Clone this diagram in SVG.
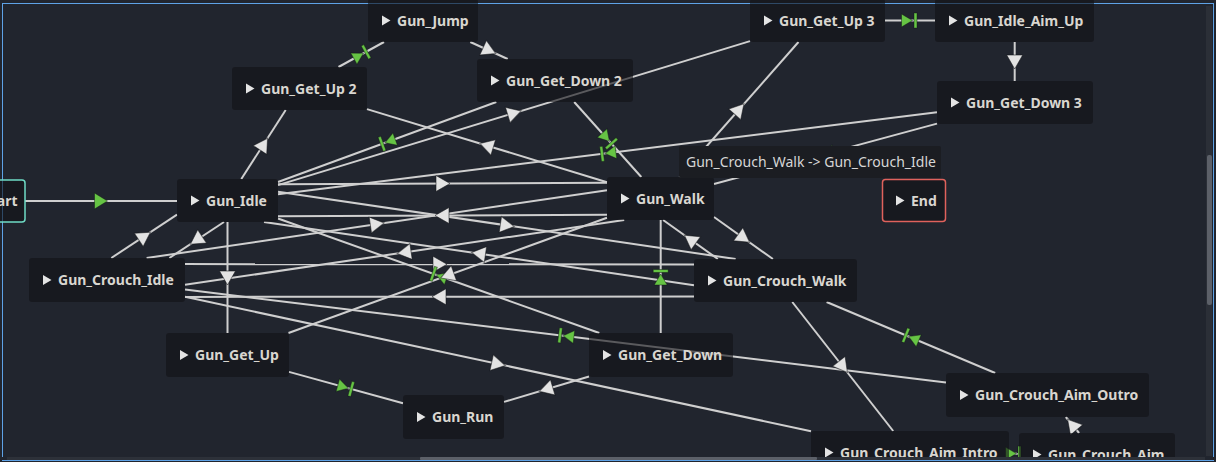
<svg xmlns="http://www.w3.org/2000/svg" xmlns:xlink="http://www.w3.org/1999/xlink" width="1216" height="462" viewBox="0 0 1216 462">
<style>
.bg{fill:#21252e}
.ln{stroke:#cfcfcf;stroke-width:2;fill:none}
.box{fill:#111216;fill-opacity:0.62}
.t{font-family:"Noto Sans","DejaVu Sans",sans-serif;font-weight:bold;font-size:14px;fill:#d9d6d0}
.ic{fill:#e4e4e4}
.tip{font-family:"Noto Sans","DejaVu Sans",sans-serif;font-size:14px;fill:#d6d6d6}
</style>
<defs>
<path id="aw" d="M-6.5,-8 L7.5,0 L-6.5,8 Z" fill="#e3e3e3" stroke="#101216" stroke-opacity="0.55" stroke-width="1"/>
<path id="ag" d="M-6.5,-8 L6.5,0 L-6.5,8 Z" fill="#66c444" stroke="#101216" stroke-opacity="0.45" stroke-width="1"/>
<g id="ab" fill="#66c444" stroke="#101216" stroke-opacity="0.45" stroke-width="1"><path d="M-8.5,-6.5 L2.5,0 L-8.5,6.5 Z"/><rect x="4" y="-7.5" width="3" height="15"/></g>
</defs>
<rect class="bg" x="0" y="0" width="1216" height="462"/>
<rect x="2.5" y="3.5" width="1211" height="457" fill="none" stroke="#5ea2e6" stroke-width="1"/>
<rect x="1206" y="6" width="6" height="450" fill="#2b2f37"/>
<rect x="1207" y="155" width="5" height="150" rx="2" fill="#5c6068"/>

<g id="connectors">
<line class="ln" x1="25" y1="201" x2="177" y2="201"/>
<line class="ln" x1="241.3" y1="179" x2="285.7" y2="110"/>
<line class="ln" x1="338.5" y1="67" x2="384" y2="42"/>
<line class="ln" x1="470.3" y1="42" x2="507.7" y2="59"/>
<line class="ln" x1="574.2" y1="102" x2="641.3" y2="177"/>
<line class="ln" x1="496.3" y1="102" x2="278" y2="182"/>
<line class="ln" x1="278" y1="185.1" x2="750" y2="41.1"/>
<line class="ln" x1="885" y1="20.5" x2="935" y2="20.5"/>
<line class="ln" x1="1014.7" y1="42" x2="1014.7" y2="81"/>
<line class="ln" x1="937" y1="112.2" x2="278" y2="194.2"/>
<line class="ln" x1="937" y1="123.6" x2="714" y2="184"/>
<line class="ln" x1="679.5" y1="177" x2="798.5" y2="42"/>
<line class="ln" x1="278" y1="184.3" x2="607" y2="182.8"/>
<line class="ln" x1="607" y1="214.8" x2="278" y2="216.3"/>
<line class="ln" x1="224" y1="222" x2="169.4" y2="258"/>
<line class="ln" x1="111.3" y1="258" x2="177" y2="214.6"/>
<line class="ln" x1="227.5" y1="222" x2="227.5" y2="333"/>
<line class="ln" x1="289" y1="371.9" x2="403" y2="403.2"/>
<line class="ln" x1="589" y1="376.5" x2="504" y2="401.9"/>
<line class="ln" x1="660.7" y1="333" x2="660.7" y2="220"/>
<line class="ln" x1="714" y1="217" x2="772.9" y2="259"/>
<line class="ln" x1="717.8" y1="259" x2="663.1" y2="220"/>
<line class="ln" x1="185" y1="264.1" x2="694" y2="264.4"/>
<line class="ln" x1="694" y1="296.6" x2="185" y2="296.9"/>
<line class="ln" x1="146.6" y1="258" x2="607" y2="190.2"/>
<line class="ln" x1="624.2" y1="220" x2="185" y2="284.8"/>
<line class="ln" x1="278" y1="191.8" x2="735.6" y2="259"/>
<line class="ln" x1="694" y1="285.2" x2="264" y2="222"/>
<line class="ln" x1="599.3" y1="333" x2="278" y2="218.5"/>
<line class="ln" x1="607" y1="217.8" x2="288.5" y2="333"/>
<line class="ln" x1="185" y1="296.8" x2="811" y2="431.2"/>
<line class="ln" x1="946" y1="382.6" x2="185" y2="289.5"/>
<line class="ln" x1="792.3" y1="302" x2="893.2" y2="431"/>
<line class="ln" x1="995.2" y1="373" x2="826.6" y2="302"/>
<line class="ln" x1="1009" y1="453.6" x2="1019" y2="453.7"/>
<line class="ln" x1="1079.1" y1="433" x2="1065.8" y2="417"/>
<line class="ln" x1="367" y1="109.1" x2="607" y2="182.2"/>

<use xlink:href="#ag" transform="translate(101,201)"/>
<use xlink:href="#aw" transform="translate(263.5,144.5) rotate(-57.2)"/>
<use xlink:href="#ab" transform="translate(361.3,54.5) rotate(-28.8)"/>
<use xlink:href="#aw" transform="translate(489,50.5) rotate(24.5)"/>
<use xlink:href="#ab" transform="translate(607.8,139.5) rotate(48.2)"/>
<use xlink:href="#ab" transform="translate(387.2,142) rotate(159.9)"/>
<use xlink:href="#aw" transform="translate(514,113.1) rotate(-17)"/>
<use xlink:href="#ab" transform="translate(910,20.5)"/>
<use xlink:href="#aw" transform="translate(1014.7,61.5) rotate(90)"/>
<use xlink:href="#ab" transform="translate(607.5,153.2) rotate(172.9)"/>
<use xlink:href="#ab" transform="translate(825.5,153.8) rotate(164.8)"/>
<use xlink:href="#aw" transform="translate(739,109.5) rotate(-48.6)"/>
<use xlink:href="#aw" transform="translate(442.5,183.5)"/>
<use xlink:href="#aw" transform="translate(442.5,215.5) rotate(180)"/>
<use xlink:href="#aw" transform="translate(196.7,240) rotate(146.6)"/>
<use xlink:href="#aw" transform="translate(144.2,236.3) rotate(-33.4)"/>
<use xlink:href="#aw" transform="translate(227.5,277.5) rotate(90)"/>
<use xlink:href="#ab" transform="translate(346,387.5) rotate(15.3)"/>
<use xlink:href="#aw" transform="translate(546.5,389.2) rotate(163.4)"/>
<use xlink:href="#ab" transform="translate(660.7,276.5) rotate(-90)"/>
<use xlink:href="#aw" transform="translate(743.5,238) rotate(35.5)"/>
<use xlink:href="#aw" transform="translate(690.5,239.5) rotate(-144.5)"/>
<use xlink:href="#aw" transform="translate(439.5,264.25)"/>
<use xlink:href="#aw" transform="translate(439.5,296.75) rotate(180)"/>
<use xlink:href="#aw" transform="translate(376.8,224.1) rotate(-8.4)"/>
<use xlink:href="#aw" transform="translate(404.6,252.4) rotate(171.6)"/>
<use xlink:href="#aw" transform="translate(506.8,225.4) rotate(8.35)"/>
<use xlink:href="#aw" transform="translate(479,253.6) rotate(-171.65)"/>
<use xlink:href="#ab" transform="translate(438.6,275.7) rotate(-160.4)"/>
<use xlink:href="#aw" transform="translate(447.8,275.4) rotate(160.1)"/>
<use xlink:href="#aw" transform="translate(498,364) rotate(12.1)"/>
<use xlink:href="#ab" transform="translate(565.5,336) rotate(-173)"/>
<use xlink:href="#aw" transform="translate(842.8,366.5) rotate(52)"/>
<use xlink:href="#ab" transform="translate(910.9,337.5) rotate(-157.2)"/>
<use xlink:href="#ab" transform="translate(1014,453.6)"/>
<use xlink:href="#aw" transform="translate(1072.4,425) rotate(-129.8)"/>
<use xlink:href="#aw" transform="translate(487,145.6) rotate(-163.05)"/>
</g>

<g id="node-start"><rect class="box" x="-46" y="180" width="71" height="42" rx="3" stroke="#6fdcc6" stroke-width="1.5"/><polygon class="ic" points="-32,196 -23.5,201 -32,206"/><text class="t" x="-17" y="206">Start</text></g>
<g id="node-gun-idle"><rect class="box" x="177" y="179" width="101" height="43" rx="3"/><polygon class="ic" points="191,195.5 199.5,200.5 191,205.5"/><text class="t" x="206" y="205.5">Gun_Idle</text></g>
<g id="node-gun-get-up-2"><rect class="box" x="232" y="67" width="135" height="43" rx="3"/><polygon class="ic" points="246,83.5 254.5,88.5 246,93.5"/><text class="t" x="261" y="93.5">Gun_Get_Up 2</text></g>
<g id="node-gun-jump"><rect class="box" x="368" y="-1" width="110" height="43" rx="3"/><polygon class="ic" points="382,15.5 390.5,20.5 382,25.5"/><text class="t" x="397" y="25.5">Gun_Jump</text></g>
<g id="node-gun-get-down-2"><rect class="box" x="477" y="59" width="156" height="43" rx="3"/><polygon class="ic" points="491,75.5 499.5,80.5 491,85.5"/><text class="t" x="506" y="85.5">Gun_Get_Down 2</text></g>
<g id="node-gun-get-up-3"><rect class="box" x="750" y="-1" width="135" height="43" rx="3"/><polygon class="ic" points="764,15.5 772.5,20.5 764,25.5"/><text class="t" x="779" y="25.5">Gun_Get_Up 3</text></g>
<g id="node-gun-idle-aim-up"><rect class="box" x="935" y="-1" width="159" height="43" rx="3"/><polygon class="ic" points="949,15.5 957.5,20.5 949,25.5"/><text class="t" x="964" y="25.5">Gun_Idle_Aim_Up</text></g>
<g id="node-gun-get-down-3"><rect class="box" x="937" y="81" width="156" height="43" rx="3"/><polygon class="ic" points="951,97.5 959.5,102.5 951,107.5"/><text class="t" x="966" y="107.5">Gun_Get_Down 3</text></g>
<g id="node-end"><rect class="box" x="882.5" y="179.5" width="63" height="42" rx="3" stroke="#e0625c" stroke-width="1.5"/><polygon class="ic" points="896,195.5 904.5,200.5 896,205.5"/><text class="t" x="911" y="205.5">End</text></g>
<g id="node-gun-walk"><rect class="box" x="607" y="177" width="107" height="43" rx="3"/><polygon class="ic" points="621,193.5 629.5,198.5 621,203.5"/><text class="t" x="636" y="203.5">Gun_Walk</text></g>
<g id="node-gun-crouch-idle"><rect class="box" x="29" y="258" width="156" height="44" rx="3"/><polygon class="ic" points="43,275 51.5,280 43,285"/><text class="t" x="58" y="285">Gun_Crouch_Idle</text></g>
<g id="node-gun-crouch-walk"><rect class="box" x="694" y="259" width="163" height="43" rx="3"/><polygon class="ic" points="708,275.5 716.5,280.5 708,285.5"/><text class="t" x="723" y="285.5">Gun_Crouch_Walk</text></g>
<g id="node-gun-get-up"><rect class="box" x="166" y="333" width="123" height="44" rx="3"/><polygon class="ic" points="180,350 188.5,355 180,360"/><text class="t" x="195" y="360">Gun_Get_Up</text></g>
<g id="node-gun-get-down"><rect class="box" x="589" y="333" width="144" height="44" rx="3"/><polygon class="ic" points="603,350 611.5,355 603,360"/><text class="t" x="618" y="360">Gun_Get_Down</text></g>
<g id="node-gun-run"><rect class="box" x="403" y="395" width="101" height="44" rx="3"/><polygon class="ic" points="417,412 425.5,417 417,422"/><text class="t" x="432" y="422">Gun_Run</text></g>
<g id="node-gun-crouch-aim-outro"><rect class="box" x="946" y="373" width="203" height="44" rx="3"/><polygon class="ic" points="960,390 968.5,395 960,400"/><text class="t" x="975" y="400">Gun_Crouch_Aim_Outro</text></g>
<g id="node-gun-crouch-aim-intro"><rect class="box" x="811" y="431" width="198" height="43" rx="3"/><polygon class="ic" points="825,447.5 833.5,452.5 825,457.5"/><text class="t" x="840" y="457.5">Gun_Crouch_Aim_Intro</text></g>
<g id="node-gun-crouch-aim"><rect class="box" x="1019" y="433" width="156" height="43" rx="3"/><polygon class="ic" points="1033,449.5 1041.5,454.5 1033,459.5"/><text class="t" x="1048" y="459.5">Gun_Crouch_Aim</text></g>

<g id="tooltip"><rect x="679" y="146" width="262" height="32" rx="2" fill="#1b1d22"/><text class="tip" x="686" y="167">Gun_Crouch_Walk -&gt; Gun_Crouch_Idle</text></g>

<rect x="0" y="457" width="1216" height="5" fill="#21252e"/>
<rect x="7" y="457" width="1198" height="3" fill="#2d3139"/>
<rect x="420" y="457" width="397" height="3" rx="1" fill="#5c6068"/>
<line x1="2" y1="460.5" x2="1214" y2="460.5" stroke="#5ea2e6" stroke-width="1"/>
</svg>
